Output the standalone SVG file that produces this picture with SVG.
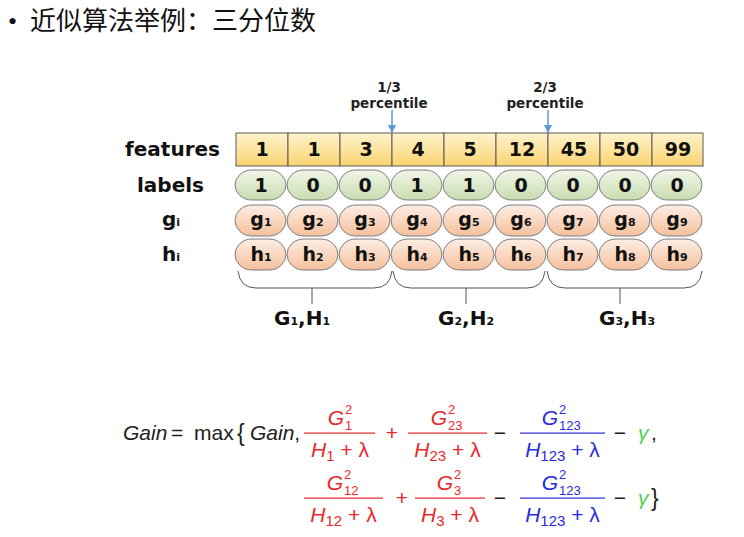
<svg xmlns="http://www.w3.org/2000/svg" width="744" height="537" viewBox="0 0 744 537">
<defs>
<linearGradient id="gf" x1="0" y1="0" x2="0" y2="1"><stop offset="0" stop-color="#fff3cc"/><stop offset="1" stop-color="#fad472"/></linearGradient>
<linearGradient id="gl" x1="0" y1="0" x2="0" y2="1"><stop offset="0" stop-color="#f1f6e9"/><stop offset="1" stop-color="#c8dcae"/></linearGradient>
<linearGradient id="gg" x1="0" y1="0" x2="0" y2="1"><stop offset="0" stop-color="#fdeee4"/><stop offset="1" stop-color="#f5c09c"/></linearGradient>
<marker id="ah" viewBox="0 0 10 10" refX="10" refY="5" markerWidth="8" markerHeight="8" markerUnits="userSpaceOnUse" orient="auto"><path d="M0,0 L10,5 L0,10 z" fill="#5b9bd5"/></marker>
<style>
.t{font-family:"DejaVu Sans",Verdana,sans-serif;font-weight:bold;fill:#111;}
.rl{font-size:20px;text-anchor:end;}
.c{font-size:19px;text-anchor:middle;}
.sb{font-size:11px;}
.pc{font-size:13.5px;text-anchor:middle;fill:#222;}
.cell{fill:url(#gf);stroke:#5a5a5a;stroke-width:1;}
.lp{fill:url(#gl);stroke:#7c7c7c;stroke-width:1;}
.gp{fill:url(#gg);stroke:#7c7c7c;stroke-width:1;}
.br{fill:none;stroke:#555;stroke-width:1;}
.ar{stroke:#5b9bd5;stroke-width:1.5;marker-end:url(#ah);}
.m{font-family:"Liberation Sans",Arial,sans-serif;font-size:21px;fill:#222;}
.i{font-style:italic;}
.s{font-size:15px;}
.ss{font-size:13px;}
.red{fill:#e8292b;}
.blu{fill:#2b2bdc;}
.grn{fill:#52d052;}
.mid{text-anchor:middle;}
</style>
</defs>
<rect width="744" height="537" fill="#fff"/>

<g id="title">
<text x="8" y="30" font-family="'Liberation Serif','Noto Sans CJK SC',serif" font-size="26" fill="#111">•</text>
<text x="30" y="30" font-family="'Liberation Serif','Noto Sans CJK SC',serif" font-size="26" fill="#111">近似算法举例：三分位数</text>
</g>

<g id="row-labels" class="t">
<text class="rl" x="220" y="156">features</text>
<text class="rl" x="204" y="192">labels</text>
<text x="162" y="226" font-size="20">g<tspan class="sb">i</tspan></text>
<text x="162" y="261" font-size="20">h<tspan class="sb">i</tspan></text>
</g>

<g id="features">
<rect class="cell" x="236" y="133" width="52" height="33"/>
<rect class="cell" x="288" y="133" width="52" height="33"/>
<rect class="cell" x="340" y="133" width="52" height="33"/>
<rect class="cell" x="392" y="133" width="52" height="33"/>
<rect class="cell" x="444" y="133" width="52" height="33"/>
<rect class="cell" x="496" y="133" width="52" height="33"/>
<rect class="cell" x="548" y="133" width="52" height="33"/>
<rect class="cell" x="600" y="133" width="52" height="33"/>
<rect class="cell" x="652" y="133" width="51" height="33"/>
<g class="t c">
<text x="262" y="156">1</text><text x="314" y="156">1</text><text x="366" y="156">3</text>
<text x="418" y="156">4</text><text x="470" y="156">5</text><text x="522" y="156">12</text>
<text x="574" y="156">45</text><text x="626" y="156">50</text><text x="678" y="156">99</text>
</g>
</g>

<g id="labels">
<rect class="lp" x="235" y="170" width="51" height="30" rx="17" ry="15"/>
<rect class="lp" x="287" y="170" width="51" height="30" rx="17" ry="15"/>
<rect class="lp" x="339" y="170" width="51" height="30" rx="17" ry="15"/>
<rect class="lp" x="391" y="170" width="51" height="30" rx="17" ry="15"/>
<rect class="lp" x="443" y="170" width="51" height="30" rx="17" ry="15"/>
<rect class="lp" x="495" y="170" width="51" height="30" rx="17" ry="15"/>
<rect class="lp" x="547" y="170" width="51" height="30" rx="17" ry="15"/>
<rect class="lp" x="599" y="170" width="51" height="30" rx="17" ry="15"/>
<rect class="lp" x="651" y="170" width="51" height="30" rx="17" ry="15"/>
<g class="t c">
<text x="261" y="192">1</text><text x="313" y="192">0</text><text x="365" y="192">0</text>
<text x="417" y="192">1</text><text x="469" y="192">1</text><text x="521" y="192">0</text>
<text x="573" y="192">0</text><text x="625" y="192">0</text><text x="677" y="192">0</text>
</g>
</g>

<g id="g-row">
<rect class="gp" x="235" y="205" width="51" height="31" rx="17" ry="15.5"/>
<rect class="gp" x="287" y="205" width="51" height="31" rx="17" ry="15.5"/>
<rect class="gp" x="339" y="205" width="51" height="31" rx="17" ry="15.5"/>
<rect class="gp" x="391" y="205" width="51" height="31" rx="17" ry="15.5"/>
<rect class="gp" x="443" y="205" width="51" height="31" rx="17" ry="15.5"/>
<rect class="gp" x="495" y="205" width="51" height="31" rx="17" ry="15.5"/>
<rect class="gp" x="547" y="205" width="51" height="31" rx="17" ry="15.5"/>
<rect class="gp" x="599" y="205" width="51" height="31" rx="17" ry="15.5"/>
<rect class="gp" x="651" y="205" width="51" height="31" rx="17" ry="15.5"/>
<g class="t c">
<text x="261" y="226">g<tspan class="sb">1</tspan></text><text x="313" y="226">g<tspan class="sb">2</tspan></text><text x="365" y="226">g<tspan class="sb">3</tspan></text>
<text x="417" y="226">g<tspan class="sb">4</tspan></text><text x="469" y="226">g<tspan class="sb">5</tspan></text><text x="521" y="226">g<tspan class="sb">6</tspan></text>
<text x="573" y="226">g<tspan class="sb">7</tspan></text><text x="625" y="226">g<tspan class="sb">8</tspan></text><text x="677" y="226">g<tspan class="sb">9</tspan></text>
</g>
</g>

<g id="h-row">
<rect class="gp" x="235" y="239" width="51" height="31" rx="17" ry="15.5"/>
<rect class="gp" x="287" y="239" width="51" height="31" rx="17" ry="15.5"/>
<rect class="gp" x="339" y="239" width="51" height="31" rx="17" ry="15.5"/>
<rect class="gp" x="391" y="239" width="51" height="31" rx="17" ry="15.5"/>
<rect class="gp" x="443" y="239" width="51" height="31" rx="17" ry="15.5"/>
<rect class="gp" x="495" y="239" width="51" height="31" rx="17" ry="15.5"/>
<rect class="gp" x="547" y="239" width="51" height="31" rx="17" ry="15.5"/>
<rect class="gp" x="599" y="239" width="51" height="31" rx="17" ry="15.5"/>
<rect class="gp" x="651" y="239" width="51" height="31" rx="17" ry="15.5"/>
<g class="t c">
<text x="261" y="261">h<tspan class="sb">1</tspan></text><text x="313" y="261">h<tspan class="sb">2</tspan></text><text x="365" y="261">h<tspan class="sb">3</tspan></text>
<text x="417" y="261">h<tspan class="sb">4</tspan></text><text x="469" y="261">h<tspan class="sb">5</tspan></text><text x="521" y="261">h<tspan class="sb">6</tspan></text>
<text x="573" y="261">h<tspan class="sb">7</tspan></text><text x="625" y="261">h<tspan class="sb">8</tspan></text><text x="677" y="261">h<tspan class="sb">9</tspan></text>
</g>
</g>

<g id="percentile-labels" class="t">
<text class="pc" x="389" y="92" font-size="14">1/3</text>
<text class="pc" x="389" y="108">percentile</text>
<text class="pc" x="545" y="92">2/3</text>
<text class="pc" x="545" y="108">percentile</text>
</g>

<g id="group-labels" class="t">
<text x="302" y="325" font-size="20" text-anchor="middle">G<tspan class="sb">1</tspan>,H<tspan class="sb">1</tspan></text>
<text x="466" y="325" font-size="20" text-anchor="middle">G<tspan class="sb">2</tspan>,H<tspan class="sb">2</tspan></text>
<text x="627" y="325" font-size="20" text-anchor="middle">G<tspan class="sb">3</tspan>,H<tspan class="sb">3</tspan></text>
</g>

<g id="connectors">
<line class="ar" x1="392" y1="110" x2="392" y2="133"/>
<line class="ar" x1="548" y1="110" x2="548" y2="133"/>
<path class="br" d="M238,271 Q240,288 256,288 L374,288 Q390,288 392,271 M312,288 L312,304"/>
<path class="br" d="M393,271 Q395,288 411,288 L527,288 Q543,288 545,271 M466,288 L466,304"/>
<path class="br" d="M547,271 Q549,288 565,288 L684,288 Q700,288 702,271 M620,288 L620,304"/>
</g>

<g id="formula" class="m">
<text x="123" y="440" class="i">Gain</text>
<text x="171" y="440">=</text>
<text x="194" y="440">max</text>
<text x="237" y="441" font-size="23">{</text>
<text x="250" y="440"><tspan class="i">Gain</tspan>,</text>

<!-- line 1 -->
<g class="red">
<text x="344" y="425" text-anchor="end" class="i">G</text>
<text x="345" y="414" class="ss">2</text><text x="345" y="430" class="ss">1</text>
<rect x="304" y="432.5" width="71" height="1.2"/>
<text x="340" y="457" class="mid"><tspan class="i">H</tspan><tspan class="s" dy="4">1</tspan><tspan dy="-4"> + λ</tspan></text>
<text x="392" y="440" class="mid">+</text>
<text x="447" y="425" text-anchor="end" class="i">G</text>
<text x="448" y="414" class="ss">2</text><text x="448" y="430" class="ss">23</text>
<rect x="408" y="432.5" width="79" height="1.2"/>
<text x="447.5" y="457" class="mid"><tspan class="i">H</tspan><tspan class="s" dy="4">23</tspan><tspan dy="-4"> + λ</tspan></text>
</g>
<text x="500" y="440" class="mid">−</text>
<g class="blu">
<text x="558" y="425" text-anchor="end" class="i">G</text>
<text x="559" y="414" class="ss">2</text><text x="559" y="430" class="ss">123</text>
<rect x="520" y="432.5" width="85" height="1.2"/>
<text x="562.5" y="457" class="mid"><tspan class="i">H</tspan><tspan class="s" dy="4">123</tspan><tspan dy="-4"> + λ</tspan></text>
</g>
<text x="620" y="440" class="mid">−</text>
<text x="638" y="440" class="i grn">γ</text>
<text x="651" y="440">,</text>

<!-- line 2 -->
<g class="red">
<text x="343" y="490" text-anchor="end" class="i">G</text>
<text x="344" y="479" class="ss">2</text><text x="344" y="495" class="ss">12</text>
<rect x="304" y="497.5" width="79" height="1.2"/>
<text x="343.5" y="522" class="mid"><tspan class="i">H</tspan><tspan class="s" dy="4">12</tspan><tspan dy="-4"> + λ</tspan></text>
<text x="402" y="505" class="mid">+</text>
<text x="453" y="490" text-anchor="end" class="i">G</text>
<text x="454" y="479" class="ss">2</text><text x="454" y="495" class="ss">3</text>
<rect x="415" y="497.5" width="70" height="1.2"/>
<text x="450" y="522" class="mid"><tspan class="i">H</tspan><tspan class="s" dy="4">3</tspan><tspan dy="-4"> + λ</tspan></text>
</g>
<text x="500" y="505" class="mid">−</text>
<g class="blu">
<text x="558" y="490" text-anchor="end" class="i">G</text>
<text x="559" y="479" class="ss">2</text><text x="559" y="495" class="ss">123</text>
<rect x="520" y="497.5" width="85" height="1.2"/>
<text x="562.5" y="522" class="mid"><tspan class="i">H</tspan><tspan class="s" dy="4">123</tspan><tspan dy="-4"> + λ</tspan></text>
</g>
<text x="620" y="505" class="mid">−</text>
<text x="638" y="505" class="i grn">γ</text>
<text x="651" y="506" font-size="23">}</text>
</g>
</svg>
